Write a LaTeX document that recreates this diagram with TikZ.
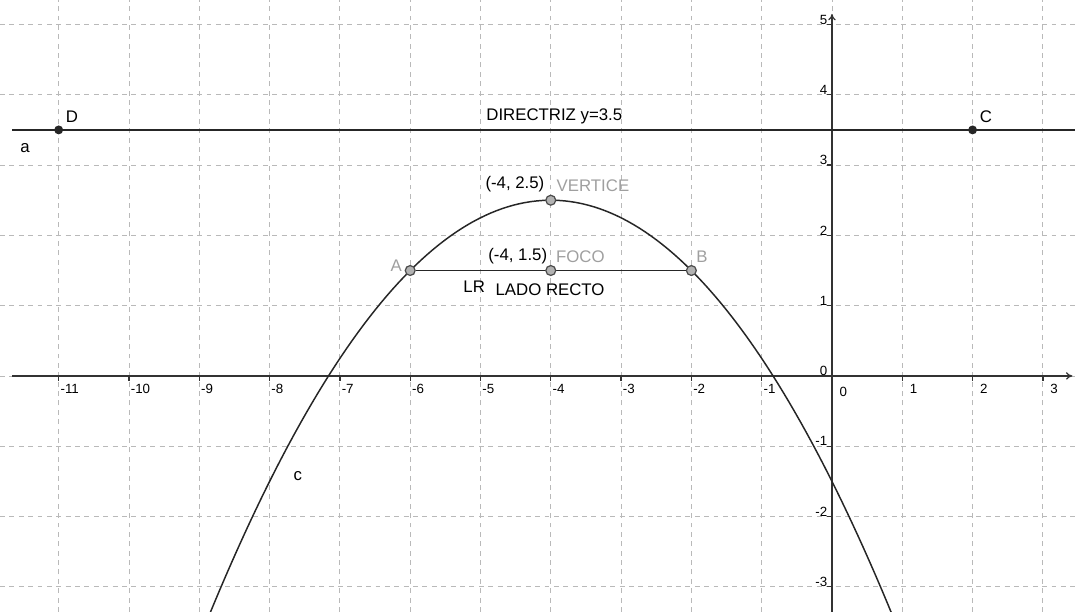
\documentclass[tikz,border=0pt]{standalone}
\usepackage{fontspec}
\setmainfont{Liberation Sans}
\usetikzlibrary{arrows.meta,positioning}

\begin{document}
\begin{tikzpicture}[
  >={To[length=2.6pt,width=3pt]},
  every node/.style={font=\fontsize{6.8}{8}\selectfont, inner sep=0pt},
  gridline/.style={gray!55, dash pattern=on 2pt off 1.8pt, line width=0.35pt},
  axisline/.style={black!80, line width=0.5pt},
  ticklab/.style={font=\fontsize{5.4}{6}\selectfont},
  curve/.style={black!85, line width=0.6pt},
  blackpt/.style={circle, fill=black!85, minimum size=3.6pt},
  graypt/.style={circle, fill=gray!60, draw=black!70, line width=0.5pt, minimum size=4pt},
  graylab/.style={text=gray!75}
]
\useasboundingbox (-11.835,-3.357) rectangle (3.457,5.348);

% grid
\foreach \k in {-11,...,3} \draw[gridline] (\k,-3.357) -- (\k,5.348);
\foreach \k in {-3,...,5} \draw[gridline] (-11.835,\k) -- (3.457,\k);

% axes
\draw[axisline, ->] (-11.66,0) -- (3.42,0);
\draw[axisline, ->] (0,-3.357) -- (0,5.15);
\foreach \k in {-11,...,-1} {
  \draw[axisline] (\k,0) -- (\k,-0.07);
  \node[ticklab, anchor=west] (xl\k) at (\k+0.02,-0.19) {\k};
}
\foreach \k in {1,2,3} {
  \draw[axisline] (\k,0) -- (\k,-0.07);
  \node[ticklab, anchor=west] (xl\k) at (\k+0.1,-0.19) {\k};
}
\node[ticklab] (xl0) at (0.16,-0.23) {0};
\foreach \k in {-3,...,5} {
  \draw[axisline] (0,\k) -- (-0.07,\k);
  \node[ticklab, anchor=east] (yl\k) at (-0.06,\k+0.07) {\k};
}

% directriz
\coordinate (dl) at (-11.66,3.5);
\coordinate (dr) at (3.457,3.5);
\draw[curve] (dl) -- (dr);
\node[blackpt] (D) at (-11,3.5) {};
\node[blackpt] (C) at (2,3.5) {};
\node (labD) at (-10.81,3.69) {D};
\node (labC) at (2.19,3.69) {C};
\node (laba) at (-11.48,3.24) {a};
\node (dir) at (-3.95,3.69) {DIRECTRIZ y=3.5};

% parabola
\draw[curve] plot[domain=-8.87:0.87, samples=120] (\x,{2.5-(\x+4)^2/4});
\node (labc) at (-7.6,-1.42) {c};

% lado recto
\node[graypt] (A) at (-6,1.5) {};
\node[graypt] (B) at (-2,1.5) {};
\draw[curve] (A) -- (B);
\node[graypt] (F) at (-4,1.5) {};
\node[graypt] (V) at (-4,2.5) {};

\node[graylab] (labA) at (-6.2,1.57) {A};
\node[graylab] (labB) at (-1.85,1.69) {B};
\node (vcoord) at (-4.51,2.73) {(-4, 2.5)};
\node[graylab] (vtext) at (-3.4,2.7) {VERTICE};
\node (fcoord) at (-4.47,1.71) {(-4, 1.5)};
\node[graylab] (ftext) at (-3.58,1.69) {FOCO};
\node (lr) at (-5.09,1.27) {LR};
\node (ladorecto) at (-4.01,1.22) {LADO RECTO};
\end{tikzpicture}
\end{document}
